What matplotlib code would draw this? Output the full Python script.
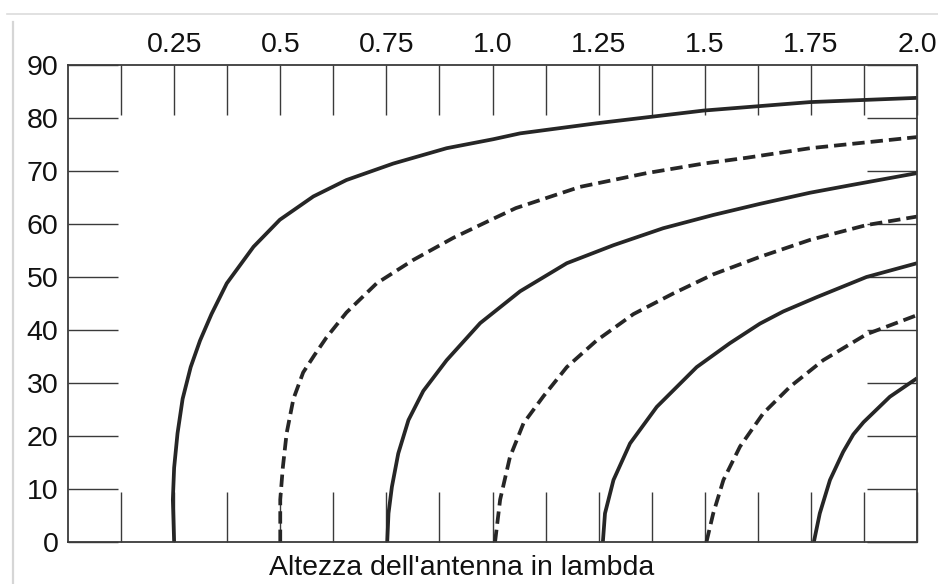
import matplotlib
matplotlib.use("Agg")
import matplotlib.pyplot as plt
from matplotlib.lines import Line2D

plt.rcParams['font.family'] = ['Liberation Sans', 'DejaVu Sans']

# Antenna height (lambda) vs angle (deg)
c1_x = [0.25, 0.247, 0.25, 0.258, 0.27, 0.289, 0.311, 0.338, 0.374, 0.437, 0.499, 0.578, 0.656, 0.766, 0.892, 1.002, 1.065, 1.245, 1.497, 1.748, 2.0]
c1_y = [0, 8, 14, 20.5, 27, 33, 38, 43, 48.8, 55.7, 60.8, 65.2, 68.3, 71.4, 74.3, 76.0, 77.1, 79, 81.4, 83, 83.8]

c2_x = [0.5, 0.5, 0.506, 0.515, 0.531, 0.554, 0.58, 0.609, 0.633, 0.656, 0.727, 0.813, 0.908, 1.002, 1.055, 1.206, 1.363, 1.497, 1.599, 1.748, 2.0]
c2_y = [0, 8, 14, 20.5, 27, 32, 35.2, 38.6, 41.0, 43.3, 48.8, 53.2, 57.4, 61, 63.0, 67, 69.6, 71.4, 72.5, 74.3, 76.4]

c3_x = [0.752, 0.755, 0.763, 0.778, 0.802, 0.837, 0.892, 0.971, 1.065, 1.175, 1.285, 1.402, 1.52, 1.63, 1.748, 1.842, 2.0]
c3_y = [0, 5.4, 10.4, 16.7, 23, 28.5, 34.3, 41.3, 47.3, 52.6, 56.0, 59.2, 61.7, 63.8, 65.9, 67.3, 69.6]

c4_x = [1.006, 1.018, 1.041, 1.073, 1.12, 1.175, 1.245, 1.332, 1.426, 1.52, 1.63, 1.748, 1.881, 2.0]
c4_y = [0, 8, 16, 22.4, 27.5, 33, 38.0, 43, 46.9, 50.5, 53.8, 57, 59.8, 61.4]

c5_x = [1.26, 1.265, 1.285, 1.324, 1.387, 1.481, 1.559, 1.63, 1.685, 1.764, 1.881, 2.0]
c5_y = [0, 5.4, 11.7, 18.6, 25.5, 33, 37.5, 41.2, 43.5, 46.2, 50.0, 52.6]

c6_x = [1.504, 1.52, 1.544, 1.583, 1.638, 1.701, 1.779, 1.881, 2.0]
c6_y = [0, 5.4, 11.7, 18, 24.3, 29.3, 34.3, 39.2, 42.8]

c7_x = [1.757, 1.771, 1.795, 1.826, 1.85, 1.874, 1.936, 2.0]
c7_y = [0, 5.4, 11.7, 17, 20.3, 22.6, 27.4, 30.9]

x_ticks = [0.125 * i for i in range(1, 17)]
x_tick_labels = ['', '0.25', '', '0.5', '', '0.75', '', '1.0', '', '1.25', '', '1.5', '', '1.75', '', '2.0']
y_ticks = [0, 10, 20, 30, 40, 50, 60, 70, 80, 90]
y_tick_labels = ['0', '10', '20', '30', '40', '50', '60', '70', '80', '90']
x_label = "Altezza dell'antenna in lambda"

fig = plt.figure(figsize=(9.38, 5.84), dpi=100)
ax = fig.add_axes([68 / 938, 1 - 542 / 584, (917 - 68) / 938, (542 - 65) / 584])

line_color = '#262626'
solid_kw = dict(color=line_color, lw=2.7, solid_capstyle='butt', solid_joinstyle='round')
dash_kw = dict(color=line_color, lw=2.7, linestyle=(0, (3.3, 1.6)), dash_capstyle='butt',
               dash_joinstyle='round')

series = [(c1_x, c1_y, True), (c2_x, c2_y, False), (c3_x, c3_y, True), (c4_x, c4_y, False),
          (c5_x, c5_y, True), (c6_x, c6_y, False), (c7_x, c7_y, True)]
for xs, ys, solid in series:
    ax.plot(xs, ys, **(solid_kw if solid else dash_kw))

ax.set_xlim(0, 2.0)
ax.set_ylim(0, 90)

ax.set_xticks(x_ticks)
ax.set_xticklabels(x_tick_labels)
ax.set_yticks(y_ticks)
ax.set_yticklabels(y_tick_labels)

ax.tick_params(axis='x', top=True, bottom=True, labeltop=True, labelbottom=False,
               direction='in', length=36, width=1.0, color='#3a3a3a', pad=5,
               labelsize=20.5, labelcolor='#111111')
ax.tick_params(axis='y', left=True, right=True, labelleft=True, labelright=False,
               direction='in', length=36, width=1.0, color='#3a3a3a', pad=7,
               labelsize=20.5, labelcolor='#111111')

for sp in ax.spines.values():
    sp.set_color('#3a3a3a')
    sp.set_linewidth(1.3)

fig.text(462 / 938, 1 - 575 / 584, x_label, ha='center', va='baseline',
         fontsize=20.5, color='#111111')

# light frame lines of the original screenshot
fig.add_artist(Line2D([7 / 938, 1.0], [1 - 14 / 584, 1 - 14 / 584],
                      transform=fig.transFigure, color='#dcdcdc', lw=1.2))
fig.add_artist(Line2D([13 / 938, 13 / 938], [1 - 22 / 584, 0],
                      transform=fig.transFigure, color='#d6d6d6', lw=1.6))

fig.savefig('out.png', dpi=100)
